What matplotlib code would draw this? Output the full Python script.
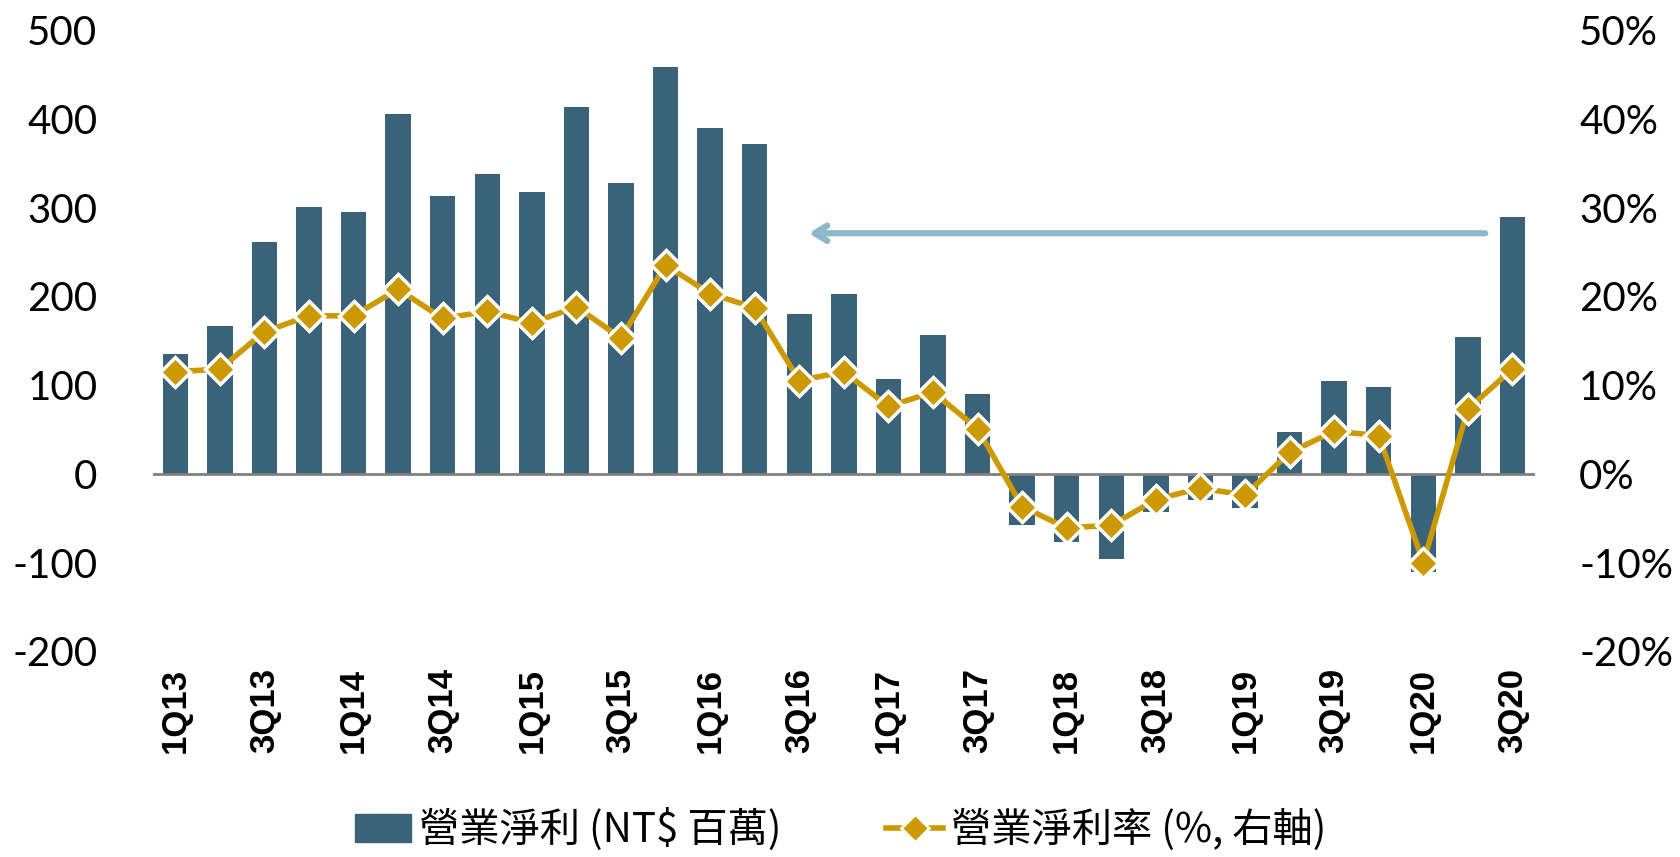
import matplotlib
matplotlib.use("Agg")
import matplotlib.pyplot as plt
from matplotlib.lines import Line2D
from matplotlib.patches import Patch

# quarterly data, 1Q13 - 3Q20
quarters = []
for yr in range(13, 21):
    for q in range(1, 5):
        quarters.append(f"{q}Q{yr}")
quarters = quarters[:31]

op_income = [135, 167, 261, 301, 295, 405, 313, 338, 318, 413, 328, 458,
             390, 372, 180, 203, 107, 156, 90, -58, -77, -96, -43, -30,
             -38, 47, 105, 98, -111, 154, 289]
op_margin = [11.5, 11.8, 16.0, 17.8, 17.8, 20.8, 17.5, 18.3, 17.0, 18.8, 15.3, 23.5,
             20.3, 18.7, 10.5, 11.5, 7.6, 9.2, 5.1, -3.7, -6.1, -5.8, -2.9, -1.6,
             -2.4, 2.4, 4.8, 4.3, -10.0, 7.3, 11.8]

left_ticks = [-200, -100, 0, 100, 200, 300, 400, 500]
right_ticks = [-20, -10, 0, 10, 20, 30, 40, 50]

# arrow from last quarter back to 3Q16 level
arrow_from = (29.45, 271)
arrow_to = (14.15, 271)

bar_color = "#3a6278"
line_color = "#cc9a00"
arrow_color = "#8db8cc"

fig = plt.figure(figsize=(16.81, 8.57), dpi=100)
ax = fig.add_axes([0.091, 0.240, 0.822, 0.725])
ax2 = ax.twinx()

x = list(range(len(quarters)))
ax.bar(x, op_income, width=0.57, color=bar_color, zorder=2)
ax.axhline(0, color="#808080", lw=2, zorder=3)

ax2.plot(x, op_margin, color=line_color, lw=4, marker="D", ms=15,
         mfc=line_color, mec="white", mew=2.5, zorder=4)

ax.annotate("", xy=arrow_to, xytext=arrow_from,
            arrowprops=dict(arrowstyle="->,head_length=0.9,head_width=0.55",
                            color=arrow_color, lw=4.5, capstyle="round"),
            zorder=5)

ax.set_xlim(-0.5, len(quarters) - 0.5)
ax.set_ylim(-200, 500)
ax2.set_ylim(-20, 50)
ax.set_yticks(left_ticks)
ax.set_yticklabels([str(v) for v in left_ticks], fontsize=29, family="Lato")
ax2.set_yticks(right_ticks)
ax2.set_yticklabels([f"{v}%" for v in right_ticks], fontsize=29, family="Lato")
ax.set_xticks(x[::2])
ax.set_xticklabels(quarters[::2], rotation=90, fontsize=25, fontweight="bold",
                   family="Liberation Sans")

ax.tick_params(axis="y", length=0, pad=40)
ax2.tick_params(axis="y", length=0, pad=32)
ax.tick_params(axis="x", length=0, pad=12)
for a in (ax, ax2):
    for s in a.spines.values():
        s.set_visible(False)

handles = [Patch(color=bar_color),
           Line2D([], [], color=line_color, lw=4, marker="D", ms=14,
                  mfc=line_color, mec="white", mew=2)]
labels = ["營業淨利 (NT$ 百萬)", "營業淨利率 (%, 右軸)"]
fig.legend(handles, labels, loc="center", bbox_to_anchor=(0.5, 0.032), ncol=2,
           frameon=False, handlelength=1.4, handletextpad=0.2, columnspacing=2.6,
           prop={"family": ["Noto Sans CJK TC", "DejaVu Sans"], "size": 29})

fig.savefig("out.png", dpi=100)
